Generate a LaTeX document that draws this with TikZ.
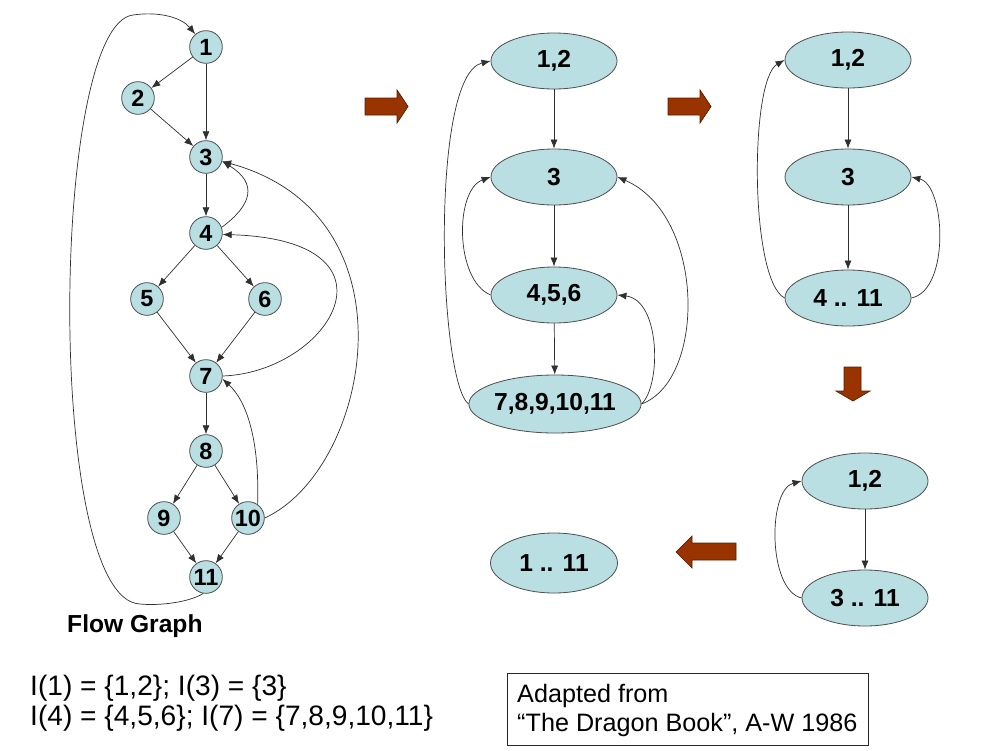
\documentclass[tikz,border=0pt]{standalone}
\usepackage{fontspec}
\setmainfont{Liberation Sans}
\usetikzlibrary{arrows.meta,shapes.geometric}
\definecolor{nodefill}{HTML}{B9DFE3}
\definecolor{nodeline}{HTML}{505050}
\definecolor{edgecol}{HTML}{303030}
\definecolor{blockfill}{HTML}{993300}
\definecolor{blockline}{HTML}{5A1E00}
\begin{document}
\begin{tikzpicture}[x=0.03cm,y=-0.03cm,
  cnode/.style={circle,draw=nodeline,fill=nodefill,line width=0.7pt,minimum size=9.8mm,inner sep=0pt,font=\fontsize{20}{22}\selectfont\bfseries},
  enode/.style={ellipse,draw=nodeline,fill=nodefill,line width=0.7pt,minimum width=37.8mm,minimum height=16.8mm,inner sep=0pt,font=\fontsize{21}{24}\selectfont\bfseries},
  arr/.style={draw=edgecol,line width=0.6pt,-{Latex[length=2.7mm,width=2.1mm]}},
  blockarr/.style={fill=blockfill,draw=blockline,line width=0.6pt,line join=miter},
  plain/.style={inner sep=0pt,anchor=base west},
]
\useasboundingbox (0,0) rectangle (1000,750);

% ---- left flow graph
\node[cnode] (n1) at (206,47) {1};
\node[cnode] (n2) at (138,98) {2};
\node[cnode] (n3) at (206,157) {3};
\node[cnode] (n4) at (206,233) {4};
\node[cnode] (n5) at (147,299) {5};
\node[cnode] (n6) at (265,299) {6};
\node[cnode] (n7) at (206,376) {7};
\node[cnode] (n8) at (206,451) {8};
\node[cnode] (n9) at (164,518) {9};
\node[cnode] (n10) at (248,518) {10};
\node[cnode] (n11) at (206,577) {11};

\draw[arr] (n1) -- (n2);
\draw[arr] (n1) -- (n3);
\draw[arr] (n2) -- (n3);
\draw[arr] (n3) -- (n4);
\draw[arr] (n4) -- (n5);
\draw[arr] (n4) -- (n6);
\draw[arr] (n5) -- (n7);
\draw[arr] (n6) -- (n7);
\draw[arr] (n7) -- (n8);
\draw[arr] (n8) -- (n9);
\draw[arr] (n8) -- (n10);
\draw[arr] (n9) -- (n11);
\draw[arr] (n10) -- (n11);
\draw[arr] (n4.20) .. controls +(30,-22) and +(36,22) .. (n3.-15);
\draw[arr] (n7.east) .. controls +(107.5,-4) and +(187.6,5.6) .. (n4.-5);
\draw[arr] (n10.east) .. controls +(105,-48) and +(198,54) .. (n3.-15);
\draw[arr] (n10.55) .. controls +(2,-65) and +(24,22) .. (n7.-10);
\draw[arr] (n11.-100) .. controls (190,602) and (160,606) .. (140,604)
   .. controls (45,600) and (50,25) .. (133,15)
   .. controls (160,11) and (182,18) .. (n1.130);

\node[plain,font=\fontsize{21}{24}\selectfont\bfseries] (fg) at (67,632) {Flow Graph};

% ---- middle graph
\node[enode] (m12) at (554,61) {1,2};
\node[enode] (m3) at (554,177) {3};
\node[enode] (m456) at (554,295) {4,5,6};
\node[enode,minimum width=48mm,minimum height=17.4mm] (m7) at (555,404) {7,8,9,10,11};
\draw[arr] (m12) -- (m3);
\draw[arr] (m3) -- (m456);
\draw[arr] (m456) -- (m7);
\draw[arr] (m456.west) .. controls +(-36,-15) and +(-36,13) .. (m3.west);
\draw[arr] (m7.west) .. controls +(-30,-24) and +(-61,14) .. (m12.west);
\draw[arr] (m7.east) .. controls +(20,-19) and +(43,5) .. (m456.east);
\draw[arr] (m7.east) .. controls +(65,-24) and +(88,38) .. (m3.east);

% ---- top right graph
\node[enode] (r12) at (848,60) {1,2};
\node[enode] (r3) at (848,177) {3};
\node[enode] (r4) at (848,298) {4 .. 11};
\draw[arr] (r12) -- (r3);
\draw[arr] (r3) -- (r4);
\draw[arr] (r4.west) .. controls +(-35,-18) and +(-35,20) .. (r12.west);
\draw[arr] (r4.east) .. controls +(39,-8) and +(34,8) .. (r3.east);

% ---- bottom right graph
\node[enode] (b12) at (865,481) {1,2};
\node[enode] (b3) at (865,598) {3 .. 11};
\draw[arr] (b12) -- (b3);
\draw[arr] (b3.west) .. controls +(-34,-8) and +(-34,9) .. (b12.west);

% ---- final
\node[enode,minimum width=38.1mm,minimum height=18mm] (f) at (554,563) {1 .. 11};

% ---- block arrows
\draw[blockarr] (365,98) -- (397,98) -- (397,90) -- (408,106.5) -- (397,123) -- (397,115) -- (365,115) -- cycle;
\draw[blockarr] (668,98) -- (700,98) -- (700,90) -- (711,106.5) -- (700,123) -- (700,115) -- (668,115) -- cycle;
\draw[blockarr] (844,367) -- (861,367) -- (861,391) -- (870,391) -- (853,401) -- (836,391) -- (844,391) -- cycle;
\draw[blockarr] (736,543) -- (692,543) -- (692,536) -- (676,552) -- (692,568) -- (692,560) -- (736,560) -- cycle;

% ---- texts
\node[plain,font=\fontsize{24}{26}\selectfont] (i1) at (30,695) {I(1) = \{1,2\}; I(3) = \{3\}};
\node[plain,font=\fontsize{24}{26}\selectfont] (i2) at (30,725) {I(4) = \{4,5,6\}; I(7) = \{7,8,9,10,11\}};

\node[draw=black!85,line width=0.8pt,minimum width=10.83cm,minimum height=2.16cm,inner sep=0pt] (box) at (687.5,709) {};
\node[plain,font=\fontsize{21.5}{24}\selectfont] (ad1) at (517,702) {Adapted from};
\node[plain,font=\fontsize{21.5}{24}\selectfont] (ad2) at (517,731) {“The Dragon Book”, A-W 1986};
\end{tikzpicture}
\end{document}
